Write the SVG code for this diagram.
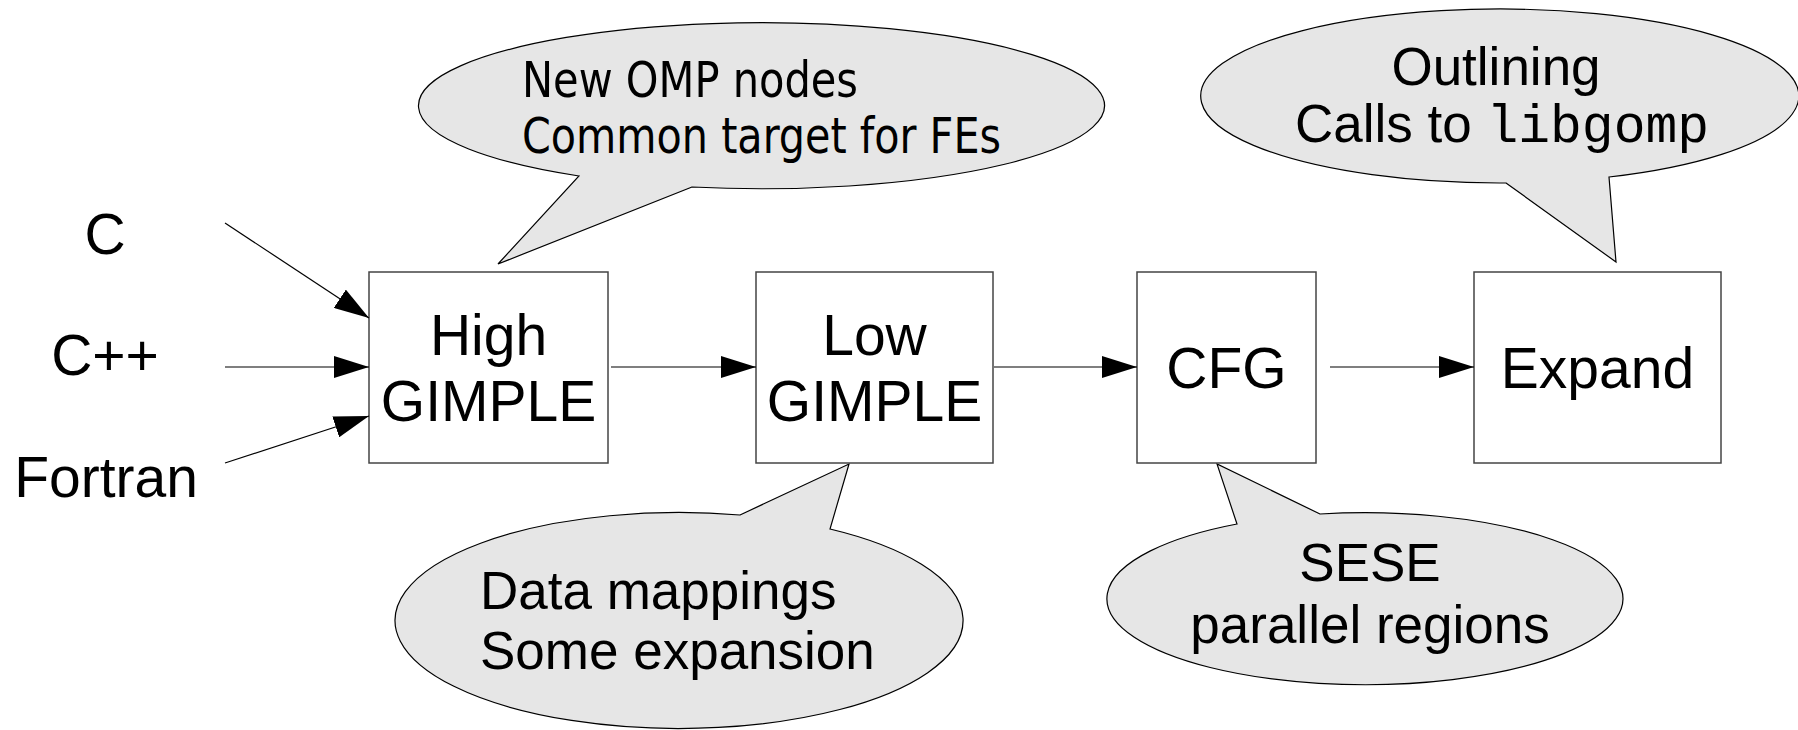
<svg xmlns="http://www.w3.org/2000/svg" width="1798" height="730" viewBox="0 0 1798 730">
<defs>
<marker id="ah" markerUnits="userSpaceOnUse" markerWidth="36" markerHeight="22" refX="35" refY="11" orient="auto">
<path d="M0,0 L35,11 L0,22 Z" fill="#000"/>
</marker>
<style>
.box{fill:#fff;stroke:#444;stroke-width:1.5}
.call{fill:#e6e6e6;stroke:#000;stroke-width:1.2}
.big{font-family:"Liberation Sans",Arial,sans-serif;font-size:57px;fill:#000}
.ct{font-family:"Liberation Sans",Arial,sans-serif;font-size:53px;fill:#000}
.tah{font-family:"DejaVu Sans Condensed","DejaVu Sans",sans-serif;font-size:50px;fill:#000}
.mono{font-family:"Liberation Mono","Courier New",monospace}
.edge{stroke:#000;stroke-width:1.2;fill:none;marker-end:url(#ah)}
</style>
</defs>
<rect width="1798" height="730" fill="#fff"/>

<g id="callout-high">
<path class="call" d="M692,187 L498,264 L579,176 A343 83 0 1 1 692,187 Z"/>
<text class="tah" x="522" y="97" textLength="336" lengthAdjust="spacingAndGlyphs">New OMP nodes</text>
<text class="tah" x="522" y="153" textLength="479" lengthAdjust="spacingAndGlyphs">Common target for FEs</text>
</g>

<g id="callout-low">
<path class="call" d="M740,515 L849,464 L830,529 A284 108 0 1 1 740,515 Z"/>
<text class="ct" x="480" y="609">Data mappings</text>
<text class="ct" x="480" y="669">Some expansion</text>
</g>

<g id="callout-cfg">
<path class="call" d="M1320,514 L1217,464 L1237,524 A258 86 0 1 0 1320,514 Z"/>
<text class="ct" x="1370" y="581" text-anchor="middle">SESE</text>
<text class="ct" x="1370" y="643" text-anchor="middle">parallel regions</text>
</g>

<g id="callout-expand">
<path class="call" d="M1506,183 L1616,262 L1609,177 A299 87 0 1 0 1506,183 Z"/>
<text class="ct" x="1496" y="85" text-anchor="middle">Outlining</text>
<text class="ct" x="1295" y="142">Calls to <tspan class="mono">libgomp</tspan></text>
</g>

<g id="src-c"><text class="big" x="105" y="254" text-anchor="middle">C</text></g>
<g id="src-cpp"><text class="big" x="105" y="375" text-anchor="middle">C++</text></g>
<g id="src-fortran"><text class="big" x="106" y="497" text-anchor="middle">Fortran</text></g>

<g id="high-gimple">
<rect class="box" x="369" y="272" width="239" height="191"/>
<text class="big" x="488.5" y="355" text-anchor="middle">High</text>
<text class="big" x="488.5" y="421" text-anchor="middle">GIMPLE</text>
</g>

<g id="low-gimple">
<rect class="box" x="756" y="272" width="237" height="191"/>
<text class="big" x="874.5" y="355" text-anchor="middle">Low</text>
<text class="big" x="874.5" y="421" text-anchor="middle">GIMPLE</text>
</g>

<g id="cfg">
<rect class="box" x="1137" y="272" width="179" height="191"/>
<text class="big" x="1226.5" y="388" text-anchor="middle">CFG</text>
</g>

<g id="expand">
<rect class="box" x="1474" y="272" width="247" height="191"/>
<text class="big" x="1597.5" y="388" text-anchor="middle">Expand</text>
</g>

<g id="connectors">
<line class="edge" x1="225" y1="223" x2="369" y2="318"/>
<line class="edge" x1="225" y1="367" x2="369" y2="367"/>
<line class="edge" x1="225" y1="463" x2="369" y2="416"/>
<line class="edge" x1="611" y1="367" x2="756" y2="367"/>
<line class="edge" x1="994" y1="367" x2="1137" y2="367"/>
<line class="edge" x1="1330" y1="367" x2="1474" y2="367"/>
</g>
</svg>
